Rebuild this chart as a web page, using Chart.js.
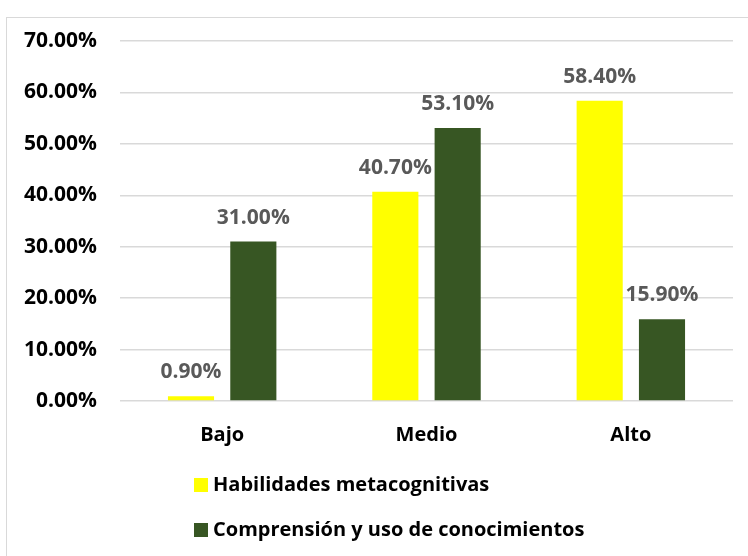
<!DOCTYPE html>
<html>
<head>
<meta charset="utf-8">
<script src="https://cdn.jsdelivr.net/npm/chart.js@4"></script>
<style>
  html, body { margin: 0; padding: 0; background: #fff; overflow: hidden; }
  #frame { position: absolute; left: 6px; top: 17px; width: 800px; height: 600px; border: 1px solid #d9d9d9; }
  #wrap { position: absolute; left: 0; top: 0; width: 748px; height: 556px; }
</style>
</head>
<body>
<div id="frame"></div>
<div id="wrap"><canvas id="chart"></canvas></div>
<script>
const categories = ['Bajo', 'Medio', 'Alto'];
const habilidades = [0.9, 40.7, 58.4];
const comprension = [31.0, 53.1, 15.9];
const seriesNames = ['Habilidades metacognitivas', 'Comprensión y uso de conocimientos'];
const yTicks = [0, 10, 20, 30, 40, 50, 60, 70];

const FONT = '"Open Sans", "Liberation Sans", sans-serif';

// value labels above each bar
const barLabels = {
  id: 'barLabels',
  afterDatasetsDraw(chart) {
    const ctx = chart.ctx;
    ctx.save();
    ctx.font = 'bold 21px ' + FONT;
    ctx.fillStyle = '#595959';
    ctx.textAlign = 'center';
    ctx.textBaseline = 'alphabetic';
    chart.data.datasets.forEach((ds, di) => {
      chart.getDatasetMeta(di).data.forEach((bar, i) => {
        ctx.fillText(ds.data[i].toFixed(2) + '%', bar.x, bar.y - 18);
      });
    });
    ctx.restore();
  }
};

// stacked legend under the axis
const stackedLegend = {
  id: 'stackedLegend',
  afterDraw(chart) {
    const ctx = chart.ctx;
    ctx.save();
    ctx.font = 'bold 20px ' + FONT;
    ctx.textBaseline = 'middle';
    chart.data.datasets.forEach((ds, i) => {
      const y = 485 + i * 45;
      ctx.fillStyle = ds.backgroundColor;
      ctx.fillRect(194, y - 7, 14, 14);
      ctx.fillStyle = '#000';
      ctx.fillText(ds.label, 213, y);
    });
    ctx.restore();
  }
};

new Chart(document.getElementById('chart'), {
  type: 'bar',
  data: {
    labels: categories,
    datasets: [
      { label: seriesNames[0], data: habilidades, backgroundColor: '#ffff00' },
      { label: seriesNames[1], data: comprension, backgroundColor: '#375623' }
    ]
  },
  options: {
    responsive: true,
    maintainAspectRatio: false,
    animation: false,
    categoryPercentage: 0.61,
    barPercentage: 0.74,
    layout: { padding: { left: 0, right: 15, top: 41, bottom: 0 } },
    plugins: {
      legend: { display: false },
      tooltip: { enabled: false }
    },
    scales: {
      x: {
        grid: { display: false },
        border: { display: false },
        ticks: { color: '#000', font: { family: FONT, size: 20, weight: 'bold' }, padding: 14 },
        afterFit(scale) { scale.height = 155; }
      },
      y: {
        min: 0,
        max: 70,
        afterBuildTicks(scale) { scale.ticks = yTicks.map(v => ({ value: v })); },
        grid: { color: '#d9d9d9', lineWidth: 1.5, drawTicks: false },
        border: { display: false },
        ticks: {
          color: '#000',
          font: { family: FONT, size: 21, weight: 'bold' },
          padding: 23,
          callback: v => v.toFixed(2) + '%'
        },
        afterFit(scale) { scale.width = 120; }
      }
    }
  },
  plugins: [barLabels, stackedLegend]
});
</script>
</body>
</html>
